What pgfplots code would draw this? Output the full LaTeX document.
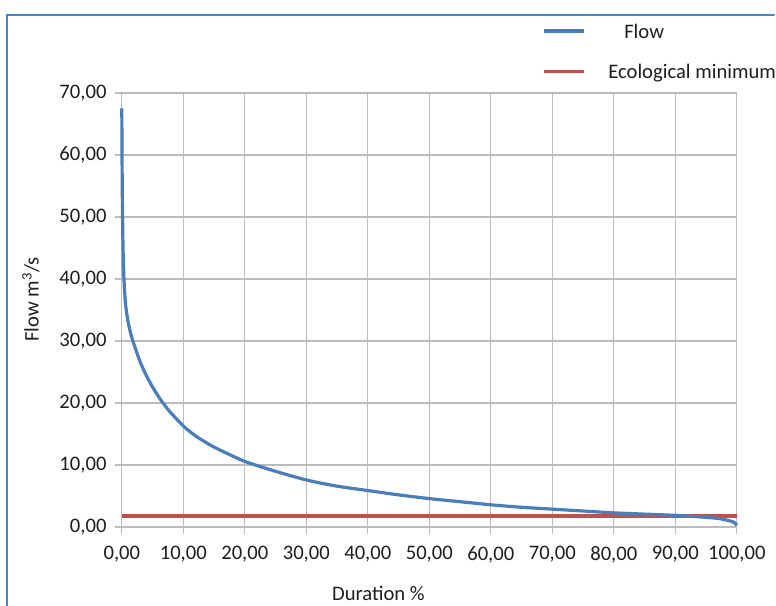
\documentclass[border=0pt]{standalone}
\usepackage{pgfplots}
\pgfplotsset{compat=1.18}
\usepackage{fontspec}
\setmainfont{Carlito}
\definecolor{flowblue}{RGB}{74,126,187}
\definecolor{ecored}{RGB}{192,80,77}
\definecolor{framebl}{RGB}{79,129,189}
\definecolor{gridgray}{RGB}{188,188,188}
\definecolor{txt}{RGB}{30,30,30}
\begin{document}
\begin{tikzpicture}
\begin{scope}[x=0.75pt,y=0.75pt]
\useasboundingbox (0,0) rectangle (776,606);
\clip (0,0) rectangle (776,606);
\fill[white] (0,0) rectangle (776,606);
\draw[framebl, line width=1.6pt] (7,-10) -- (7,591) -- (800,591);
\end{scope}
\begin{axis}[
  at={(91.5pt,58.5pt)}, anchor=south west,
  scale only axis, width=462pt, height=326.25pt,
  xmin=0, xmax=100, ymin=0, ymax=70,
  xtick={0,10,...,100}, ytick={0,10,...,70},
  grid=major,
  major grid style={gridgray, line width=1pt},
  axis line style={gridgray, line width=1pt},
  axis x line*=bottom, axis y line*=left,
  tick style={gridgray, line width=1pt},
  major tick length=5pt,
  tick pos=left, tick align=outside,
  /pgf/number format/assume math mode=true,
  /pgf/number format/.cd, fixed, fixed zerofill, precision=2, use comma, 1000 sep={},
  /pgfplots/.cd,
  ticklabel style={font=\fontsize{15.5}{18}\selectfont, text=txt},
  xticklabel style={yshift=-6pt},
  yticklabel style={xshift=-3pt},
  clip=false,
]
\addplot[ecored, line width=2.4pt] coordinates {(0,1.8) (100,1.8)};
\addplot[flowblue, line width=2.4pt, smooth, tension=0.4] coordinates {
(0,67.5) (0.05,58) (0.1,52) (0.2,45) (0.35,40) (0.6,36) (1,33.2) (1.5,31) (2,29.4)
(3,26.6) (4,24.4) (5,22.6) (6,21) (7,19.6) (8,18.4) (10,16.3) (12,14.7)
(15,12.9) (20,10.6) (25,9.0) (30,7.6) (35,6.6) (40,5.9) (45,5.2) (50,4.6)
(55,4.1) (60,3.6) (65,3.2) (70,2.9) (75,2.6) (80,2.3) (85,2.1) (90,1.9)
(94,1.65) (97,1.4) (98.5,1.1) (99.5,0.8) (100,0.3)};
\end{axis}
\begin{scope}[x=0.75pt,y=0.75pt]
\node[font=\fontsize{15.5}{18}\selectfont, text=txt] at (379,12) {Duration \%};
\node[font=\fontsize{15.5}{18}\selectfont, text=txt, rotate=90] at (31,306) {Flow m$^{\mathrm{3}}$/s};
\draw[flowblue, line width=2.4pt] (545,575) -- (585,575);
\draw[ecored, line width=2.4pt] (545,534) -- (585,534);
\node[font=\fontsize{15.5}{18}\selectfont, text=txt, anchor=west, inner sep=0pt] at (625,575) {Flow};
\node[font=\fontsize{15.5}{18}\selectfont, text=txt, anchor=west, inner sep=0pt] at (609,533) {Ecological minimum};
\end{scope}
\end{tikzpicture}
\end{document}
